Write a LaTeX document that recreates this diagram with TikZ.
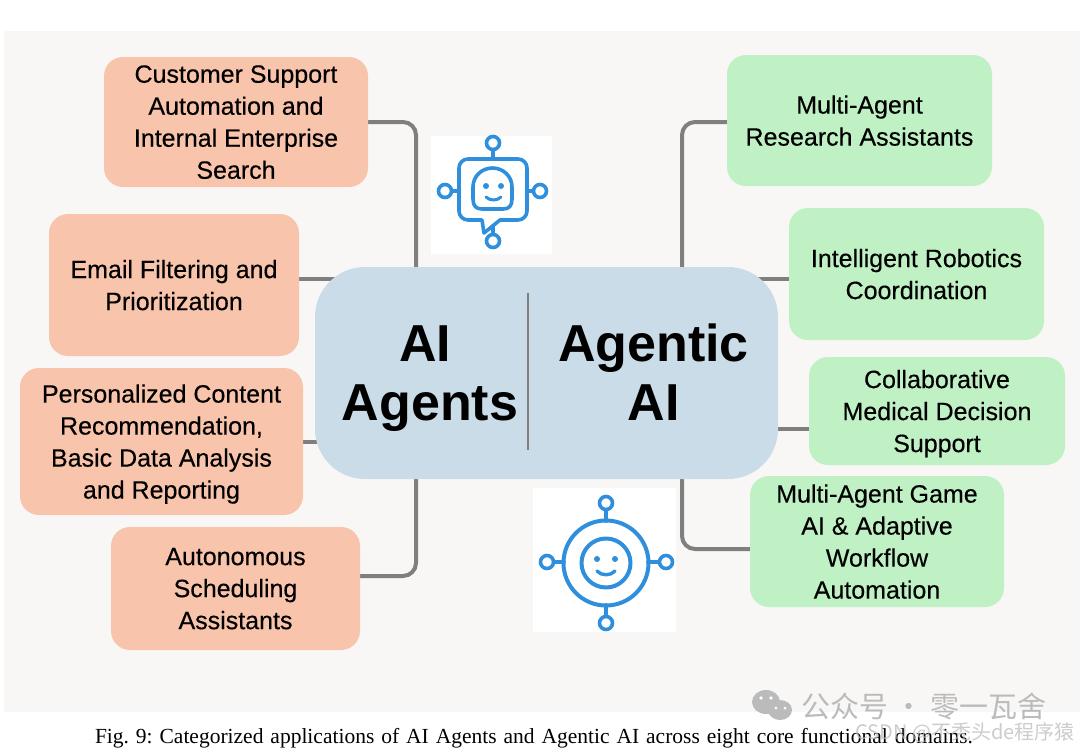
\documentclass[tikz,border=0pt]{standalone}
\usepackage{fontspec}
\setmainfont{Liberation Sans}
\newfontfamily\leaffont[FakeBold=0.3]{Liberation Sans}
\newfontfamily\capfont{Liberation Serif}
\newfontfamily\cjkfont{Noto Sans CJK SC}
\usetikzlibrary{backgrounds}
\definecolor{panel}{HTML}{F8F7F6}
\definecolor{peach}{HTML}{F8C4AB}
\definecolor{mint}{HTML}{C0F1C5}
\definecolor{hubblue}{HTML}{C9DCE8}
\definecolor{wire}{HTML}{7F7F7F}
\definecolor{iconblue}{HTML}{2F8FDC}
\definecolor{markgray}{HTML}{BBBBBB}
\newcommand{\ring}[2]{\draw[iconblue,line width=3.6pt,fill=white] (#1,#2) circle (6.5);}
\newcommand{\eyes}[3]{\fill[iconblue] (#1,#3) circle (3);\fill[iconblue] (#2,#3) circle (3);}
\tikzset{
  leafbox/.style={rounded corners=19pt,inner sep=0pt,align=center,font=\leaffont\fontsize{25}{32}\selectfont,text=black,text depth=0pt},
  hubtext/.style={align=center,inner sep=0pt,font=\fontsize{52}{59}\selectfont\bfseries},
  link/.style={wire,line width=4pt,rounded corners=13pt},
  iconline/.style={iconblue,line width=3.6pt,line cap=round,line join=round}
}
\begin{document}
\begin{tikzpicture}[x=1pt,y=-1pt]
\useasboundingbox (0,0) rectangle (1080,750);
\node[fill=hubblue,rounded corners=50pt,minimum width=463pt,minimum height=212pt,inner sep=0pt] (hub) at (546.5,373) {};
\coordinate (hubnw) at (416,373);
\coordinate (hubne) at (682,373);
\node[leafbox,fill=peach,minimum width=264pt,minimum height=130pt] (support) at (236,122) {Customer Support\\Automation and\\Internal Enterprise\\Search};
\node[leafbox,fill=peach,minimum width=250pt,minimum height=142pt] (email) at (174,285) {Email Filtering and\\Prioritization};
\node[leafbox,fill=peach,minimum width=283pt,minimum height=147pt] (content) at (161.5,441.5) {Personalized Content\\Recommendation,\\Basic Data Analysis\\and Reporting};
\node[leafbox,fill=peach,minimum width=249pt,minimum height=123pt] (sched) at (235.5,588.5) {Autonomous\\Scheduling\\Assistants};
\node[leafbox,fill=mint,minimum width=265pt,minimum height=131pt] (research) at (859.5,120.5) {Multi-Agent\\Research Assistants};
\node[leafbox,fill=mint,minimum width=255pt,minimum height=132pt] (robots) at (916.5,274) {Intelligent Robotics\\Coordination};
\node[leafbox,fill=mint,minimum width=256pt,minimum height=108pt] (medical) at (937,411) {Collaborative\\Medical Decision\\Support};
\node[leafbox,fill=mint,minimum width=254pt,minimum height=131pt] (game) at (877,541.5) {Multi-Agent Game\\AI \& Adaptive\\Workflow\\Automation};
\node[hubtext] (aitext) at (430,379) {AI\hspace*{10pt}\\Agents};
\node[hubtext] (agentic) at (653.5,372) {Agentic\\AI};
\draw[wire,line width=1.6pt] (528,293)--(528,450);
\begin{scope}[on background layer]
\fill[panel] (4,31) rectangle (1080,712);
\draw[link] (support.east |- 0,122) -| (hubnw);
\draw[link] (sched.east |- 0,576) -| (hubnw);
\draw[link] (research.west |- 0,122) -| (hubne);
\draw[link] (game.west |- 0,549) -| (hubne);
\draw[link] (email.east |- 0,279) -- (hub.center |- 0,279);
\draw[link] (content.east) -- (hub.center |- content.east);
\draw[link] (robots.west |- 0,279) -- (hub.center |- 0,279);
\draw[link] (medical.west |- 0,429) -- (hub.center |- 0,429);
\end{scope}
\fill[white] (431,136) rectangle (552,254);
\draw[iconline] (493,150)--(493,158);\draw[iconline] (452,191)--(458,191);
\draw[iconline] (527,191)--(533,191);\draw[iconline] (493,226)--(493,234);
\draw[iconline] (482,220)[rounded corners=9pt]--(459,220)--(459,159)--(527,159)--(527,220)[sharp corners]--(500,220)--(484,233)--cycle;
\draw[iconline,fill=white] (473,187) .. controls (473,176) and (482,168) .. (492.5,168) .. controls (503,168) and (512,176) .. (512,187)--(512,199) .. controls (512,206) and (509,209) .. (503,209)--(482,209) .. controls (476,209) and (473,206) .. (473,199)--cycle;
\eyes{486}{501}{186}
\draw[iconline,line width=3pt] (486,197) .. controls (490,201) and (497,201) .. (501,197);
\ring{493}{143}\ring{445}{191}\ring{540}{191}\ring{493}{241}
\fill[white] (533,488) rectangle (676,632);
\draw[iconline] (606,510)--(606,521);\draw[iconline] (606,605)--(606,616);
\draw[iconline] (554,562)--(564,562);\draw[iconline] (648,562)--(659,562);
\draw[iconline,line width=4pt] (606,563) circle (42.5);
\draw[iconline,line width=4pt] (606,563) circle (24.5);
\eyes{597}{615}{559}
\draw[iconline,line width=3.4pt] (597,571) .. controls (601,576) and (611,576) .. (615,571);
\ring{606}{503}\ring{606}{623}\ring{547}{562}\ring{666}{562}
\node[inner sep=0pt,font=\capfont\fontsize{21.5}{24}\selectfont] (caption) at (534,738) {\frenchspacing\makebox[878pt][s]{Fig. 9: Categorized applications of AI Agents and Agentic AI across eight core functional domains.}};
\fill[markgray] (766,702) ellipse (14 and 12);
\fill[markgray] (780,710) ellipse (12 and 10);
\fill[white] (761,698) circle (1.8);\fill[white] (771,698) circle (1.8);
\fill[white] (776,708) circle (1.5);\fill[white] (785,708) circle (1.5);
\node[inner sep=0pt,text=markgray,font=\cjkfont\fontsize{29}{34}\selectfont] (wechat) at (923.5,706) {公众号 · 零一瓦舍};
\node[inner sep=0pt,text=markgray,opacity=.75,font=\cjkfont\fontsize{20}{24}\selectfont] (csdn) at (965,733) {CSDN @不秃头de程序猿};
\end{tikzpicture}
\end{document}
